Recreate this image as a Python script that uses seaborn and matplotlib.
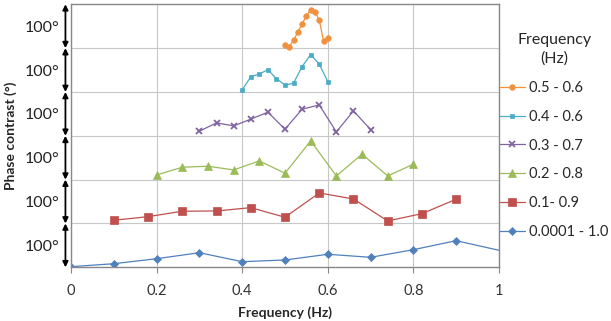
import numpy as np
import pandas as pd
import matplotlib
matplotlib.use('Agg')
from matplotlib import pyplot as plt
import seaborn as sns

# frequency (Hz) of each point and phase contrast (deg) within its own band
freq_blue = [0.0, 0.1, 0.2, 0.3, 0.4, 0.5, 0.6, 0.7, 0.8, 0.9, 1.0]
phase_blue = [1.4, 8.2, 19.6, 33.3, 12.8, 16.7, 29.7, 22.8, 40.2, 60.7, 38.8]

freq_red = [0.10, 0.18, 0.26, 0.34, 0.42, 0.50, 0.58, 0.66, 0.74, 0.82, 0.90]
phase_red = [7.3, 15.5, 27.9, 28.5, 36.1, 14.2, 69.6, 55.9, 5.7, 22.4, 55.3]

freq_green = [0.20, 0.26, 0.32, 0.38, 0.44, 0.50, 0.56, 0.62, 0.68, 0.74, 0.80]
phase_green = [10.7, 28.3, 30.6, 22.1, 42.7, 14.6, 88.4, 8.4, 58.0, 8.4, 35.2]

freq_purple = [0.30, 0.34, 0.38, 0.42, 0.46, 0.50, 0.54, 0.58, 0.62, 0.66, 0.70]
phase_purple = [10.5, 29.5, 22.6, 37.9, 53.9, 15.1, 60.7, 70.5, 8.9, 56.8, 14.2]

freq_cyan = [0.40, 0.42, 0.44, 0.46, 0.48, 0.50, 0.52, 0.54, 0.56, 0.58, 0.60]
phase_cyan = [4.8, 34.5, 41.3, 50.5, 30.6, 15.5, 20.1, 58.0, 85.4, 63.5, 23.7]

freq_orange = [0.50, 0.51, 0.52, 0.53, 0.54, 0.55, 0.56, 0.57, 0.58, 0.59, 0.60]
phase_orange = [7.5, 3.0, 18.3, 36.5, 55.5, 73.7, 87.4, 82.2, 64.6, 16.0, 24.2]

labels = ['0.0001 - 1.0', '0.1- 0.9', '0.2 - 0.8', '0.3 - 0.7', '0.4 - 0.6', '0.5 - 0.6']
band_size = 100

series = [
    (freq_blue, phase_blue, '#4F81BD', 'D', 4.5),
    (freq_red, phase_red, '#C0504D', 's', 5.5),
    (freq_green, phase_green, '#9BBB59', '^', 6),
    (freq_purple, phase_purple, '#8064A2', 'x', 5),
    (freq_cyan, phase_cyan, '#4BACC6', 's', 3.5),
    (freq_orange, phase_orange, '#F0913F', 'o', 4),
]

sns.set_style('white')
plt.rcParams['font.family'] = ['Lato', 'DejaVu Sans']

fig = plt.figure(figsize=(6.11, 3.21), dpi=100)
ax = fig.add_axes([71 / 611, (321 - 267.3) / 321, 428 / 611, 263 / 321])

for i, (fx, py, color, marker, ms) in enumerate(series):
    df = pd.DataFrame({'freq': fx, 'phase': np.array(py) + i * band_size})
    mevery = list(range(len(fx) - 1)) if i == 0 else None
    sns.lineplot(data=df, x='freq', y='phase', ax=ax, sort=False,
                 color=color, lw=0.9, marker=marker, markersize=ms,
                 markeredgecolor=color, markeredgewidth=1.3 if marker == 'x' else 0.5,
                 markevery=mevery, label=labels[i])

ax.set_xlim(0, 1)
ax.set_ylim(0, 6 * band_size)
ax.set_xticks([0, 0.2, 0.4, 0.6, 0.8, 1.0])
ax.set_xticklabels(['0', '0.2', '0.4', '0.6', '0.8', '1'])
ax.set_yticks([band_size * (k + 0.5) for k in range(6)])
ax.set_yticklabels(['100°'] * 6)
ax.set_yticks([band_size * k for k in range(1, 6)], minor=True)
ax.tick_params(axis='y', which='both', length=0, labelsize=11.5, pad=8, colors='#222222')
ax.tick_params(axis='x', length=4, width=0.8, color='#888888', labelsize=10.5,
               pad=8, colors='#333333', bottom=True)
ax.grid(True, axis='x', which='major', color='#c8c8c8', lw=0.8)
ax.grid(True, axis='y', which='minor', color='#c8c8c8', lw=0.8)
ax.grid(False, axis='y', which='major')
for s in ax.spines.values():
    s.set_color('#888888')
    s.set_linewidth(1.0)

for k in range(6):
    ax.annotate('', xy=(-0.013, band_size * k), xycoords=('axes fraction', 'data'),
                xytext=(-0.013, band_size * (k + 1)), textcoords=('axes fraction', 'data'),
                arrowprops=dict(arrowstyle='<|-|>', color='black', lw=1.3,
                                mutation_scale=8, shrinkA=0, shrinkB=0),
                annotation_clip=False)

ax.set_xlabel('Frequency (Hz)', fontsize=10, fontweight='bold', labelpad=6)
ax.set_ylabel('Phase contrast (°)', fontsize=10, fontweight='bold', labelpad=6)

h, l = ax.get_legend_handles_labels()
leg = ax.legend(h[::-1], l[::-1], title='Frequency\n(Hz)', loc='upper left',
                bbox_to_anchor=(500 / 611, 1 - 33 / 321), bbox_transform=fig.transFigure,
                frameon=False, fontsize=10.5, title_fontsize=11.5, labelspacing=1.02,
                handlelength=1.7, handletextpad=0.3, borderaxespad=0, borderpad=0)
leg.get_title().set_multialignment('center')
leg.get_title().set_linespacing(1.4)

fig.savefig('out.png', dpi=100)
